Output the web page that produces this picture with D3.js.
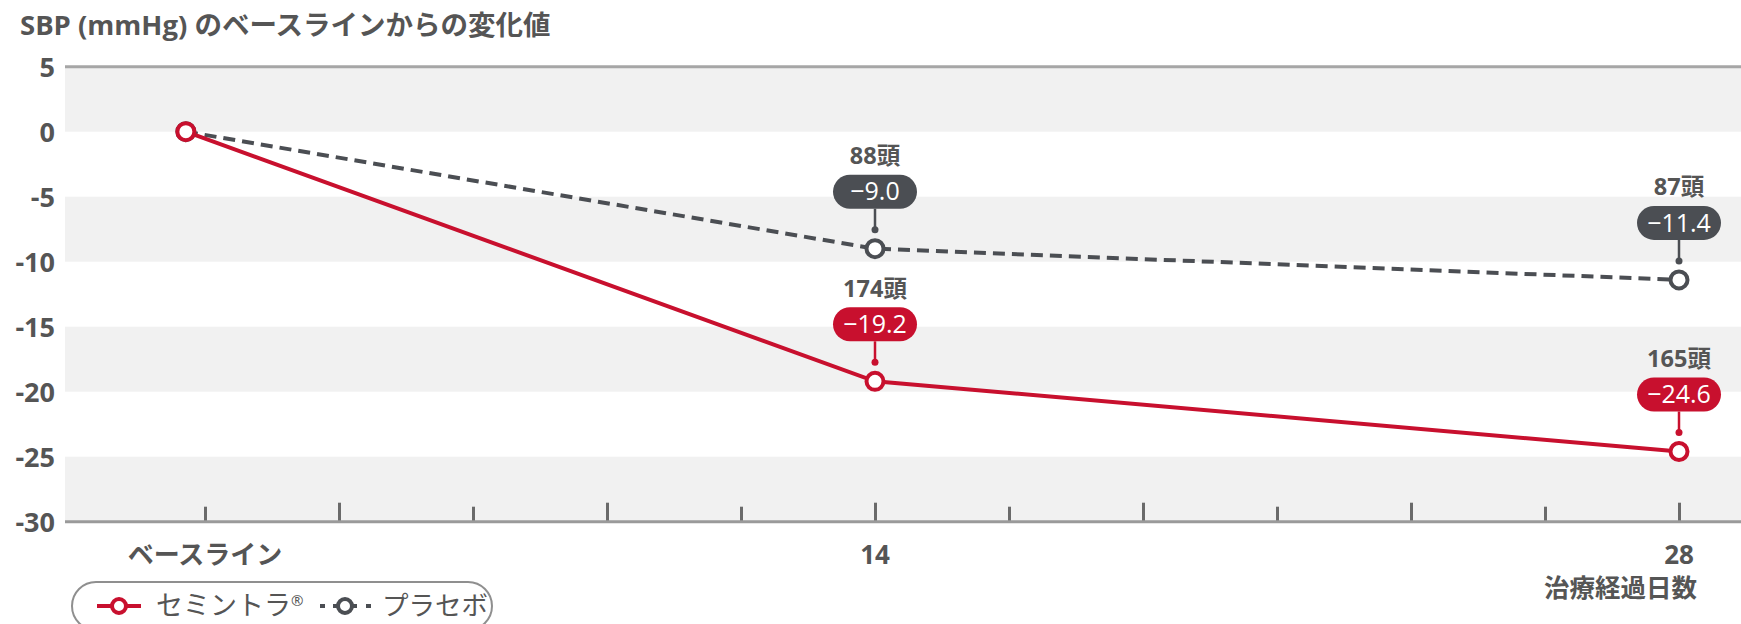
<!DOCTYPE html>
<html>
<head>
<meta charset="utf-8">
<script src="https://cdn.jsdelivr.net/npm/d3@7"></script>
<style>
  html, body { margin: 0; padding: 0; background: #ffffff; }
  svg { display: block; font-family: "Open Sans", "Noto Sans CJK JP", sans-serif; }
</style>
</head>
<body>
<svg id="chart" width="1741" height="624"></svg>
<script>
// ---- data ----
const titleText = "SBP (mmHg) のベースラインからの変化値";
const xAxisTitle = "治療経過日数";
const timeLabels = ["ベースライン", "14", "28"];
// day positions of the three visits on the day scale (baseline marker sits just inside the start)
const timeDays = [2, 14, 28];
const semintraValues = [0, -19.2, -24.6];
const placeboValues = [0, -9.0, -11.4];
const semintraCounts = [null, "174頭", "165頭"];
const placeboCounts = [null, "88頭", "87頭"];
const yTicks = [5, 0, -5, -10, -15, -20, -25, -30];
const seriesNames = ["セミントラ", "プラセボ"];

// ---- layout ----
const W = 1741, H = 624;
const plotLeft = 65, plotRight = 1741;
const red = "#c8102e", dark = "#4b4e53", textGrey = "#555555";
const FONT = "'Open Sans', 'Noto Sans CJK JP', sans-serif";

const svg = d3.select("#chart");

const y = d3.scaleLinear().domain([-30, 5]).range([521.7, 66.7]);
const x = d3.scaleLinear().domain([0, 28]).range([71, 1679]);

// alternating background bands
const bands = d3.range(5, -30, -5).filter((d, i) => i % 2 === 0);
svg.append("g").selectAll("rect").data(bands).join("rect")
  .attr("x", plotLeft).attr("width", plotRight - plotLeft)
  .attr("y", d => y(d)).attr("height", d => y(d - 5) - y(d))
  .attr("fill", "#f1f1f1");

// top reference line at the maximum value
svg.append("line")
  .attr("x1", plotLeft).attr("x2", plotRight)
  .attr("y1", y(5)).attr("y2", y(5))
  .attr("stroke", "#a6a6a6").attr("stroke-width", 3);

// title
svg.append("text")
  .attr("x", 20).attr("y", 25).attr("dy", "0.35em")
  .attr("font-size", 27.5).attr("font-weight", 700)
  .attr("fill", textGrey)
  .text(titleText);

// y axis labels
const yAxis = d3.axisLeft(y).tickValues(yTicks).tickSize(0).tickPadding(0)
  .tickFormat(d => String(d));
const gy = svg.append("g").attr("transform", `translate(55,0)`).call(yAxis);
gy.select(".domain").remove();
gy.selectAll("text")
  .attr("font-family", FONT)
  .attr("font-size", 27).attr("font-weight", 700).attr("fill", textGrey)
  .attr("dy", "0.35em");

// bottom axis with upward ticks every third of a week
const tickDays = d3.range(1, 13).map(i => i * 7 / 3);
const xAxis = d3.axisBottom(x).tickValues(tickDays).tickSize(0).tickFormat("");
const gx = svg.append("g").attr("transform", `translate(0,${y(-30)})`).call(xAxis);
gx.select(".domain").remove();
gx.append("line")
  .attr("x1", plotLeft).attr("x2", plotRight)
  .attr("stroke", "#9a9a9a").attr("stroke-width", 3);
gx.selectAll(".tick line")
  .attr("y1", 0).attr("y2", (d, i) => (i % 2 === 1 ? -19 : -15))
  .attr("stroke", "#6a6a6a").attr("stroke-width", 3);

// x labels at the first tick, day 14 and day 28
const labelDays = [tickDays[0], 14, 28];
svg.append("g").selectAll("text").data(timeLabels).join("text")
  .attr("x", (d, i) => x(labelDays[i]))
  .attr("y", 555).attr("dy", "0.35em")
  .attr("text-anchor", "middle")
  .attr("font-size", 26).attr("font-weight", 700).attr("fill", textGrey)
  .text(d => d);

svg.append("text")
  .attr("x", 1697).attr("y", 588).attr("dy", "0.35em")
  .attr("text-anchor", "end")
  .attr("font-size", 25.5).attr("font-weight", 700).attr("fill", textGrey)
  .text(xAxisTitle);

// series
const line = d3.line().x(d => x(d[0])).y(d => y(d[1]));
const placeboPts = timeDays.map((d, i) => [d, placeboValues[i]]);
const semintraPts = timeDays.map((d, i) => [d, semintraValues[i]]);

svg.append("path").datum(placeboPts)
  .attr("d", line).attr("fill", "none")
  .attr("stroke", dark).attr("stroke-width", 4).attr("stroke-dasharray", "12 7");
svg.append("path").datum(semintraPts)
  .attr("d", line).attr("fill", "none")
  .attr("stroke", red).attr("stroke-width", 4);

function drawCallouts(pts, counts, color) {
  const g = svg.append("g");
  const fmt = d3.format(".1f");
  pts.forEach((p, i) => {
    if (counts[i] == null) return;
    const cx = x(p[0]), cy = y(p[1]);
    g.append("line")
      .attr("x1", cx).attr("x2", cx)
      .attr("y1", cy - 40).attr("y2", cy - 19)
      .attr("stroke", color).attr("stroke-width", 2.5);
    g.append("circle").attr("cx", cx).attr("cy", cy - 19).attr("r", 3.5).attr("fill", color);
    g.append("rect")
      .attr("x", cx - 42).attr("y", cy - 74)
      .attr("width", 84).attr("height", 34).attr("rx", 17)
      .attr("fill", color);
    g.append("text")
      .attr("x", cx).attr("y", cy - 57).attr("dy", "0.35em")
      .attr("text-anchor", "middle")
      .attr("font-size", 25).attr("fill", "#ffffff")
      .text(fmt(p[1]));
    g.append("text")
      .attr("x", cx).attr("y", cy - 93).attr("dy", "0.35em")
      .attr("text-anchor", "middle")
      .attr("font-size", 23.5).attr("font-weight", 700).attr("fill", textGrey)
      .text(counts[i]);
  });
}

function drawMarkers(pts, color) {
  svg.append("g").selectAll("circle").data(pts).join("circle")
    .attr("cx", d => x(d[0])).attr("cy", d => y(d[1]))
    .attr("r", 8.5).attr("fill", "#ffffff")
    .attr("stroke", color).attr("stroke-width", 4);
}

drawMarkers(placeboPts, dark);
drawMarkers(semintraPts, red);
drawCallouts(placeboPts, placeboCounts, dark);
drawCallouts(semintraPts, semintraCounts, red);

// legend
const lg = svg.append("g");
lg.append("rect")
  .attr("x", 72).attr("y", 582).attr("width", 420).attr("height", 48).attr("rx", 24)
  .attr("fill", "none").attr("stroke", "#8f8f8f").attr("stroke-width", 2);
const ly = 606;
lg.append("line").attr("x1", 97).attr("x2", 141).attr("y1", ly).attr("y2", ly)
  .attr("stroke", red).attr("stroke-width", 4);
lg.append("circle").attr("cx", 119).attr("cy", ly).attr("r", 7)
  .attr("fill", "#fff").attr("stroke", red).attr("stroke-width", 4);
const t1 = lg.append("text").attr("x", 156).attr("y", ly).attr("dy", "0.35em")
  .attr("font-size", 27).attr("fill", textGrey);
t1.append("tspan").text(seriesNames[0]);
t1.append("tspan").attr("font-size", 15).attr("dy", "-0.6em").text("®");

lg.selectAll("rect.dot").data([320, 366]).join("rect")
  .attr("class", "dot")
  .attr("x", d => d).attr("y", ly - 2).attr("width", 5).attr("height", 4)
  .attr("fill", dark);
lg.append("line").attr("x1", 333).attr("x2", 357).attr("y1", ly).attr("y2", ly)
  .attr("stroke", dark).attr("stroke-width", 4);
lg.append("circle").attr("cx", 345).attr("cy", ly).attr("r", 7)
  .attr("fill", "#fff").attr("stroke", dark).attr("stroke-width", 4);
lg.append("text").attr("x", 382).attr("y", ly).attr("dy", "0.35em")
  .attr("font-size", 26.5).attr("fill", textGrey)
  .text(seriesNames[1]);
</script>
</body>
</html>
